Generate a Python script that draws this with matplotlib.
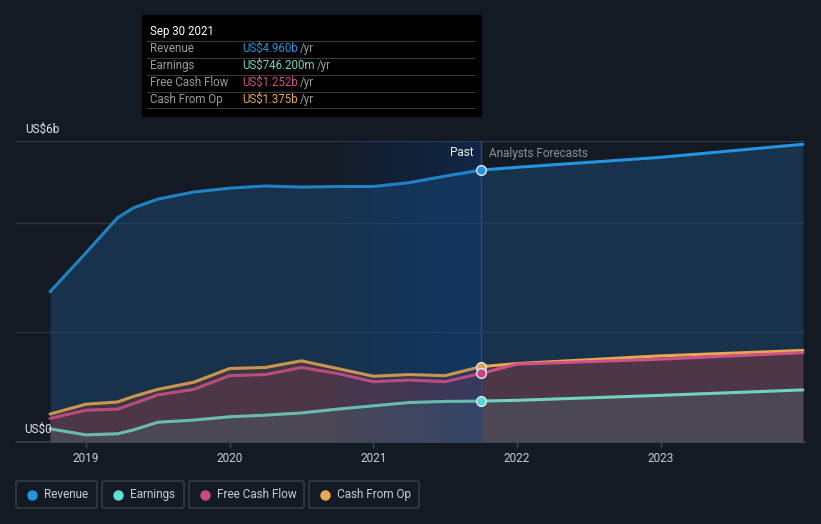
import matplotlib.pyplot as plt
import numpy as np
from matplotlib.patches import FancyBboxPatch, Rectangle
from matplotlib.lines import Line2D

plt.rcParams['font.family'] = ['Roboto', 'DejaVu Sans']

# history (US$ billions)
past_x = [2018.75, 2019.0, 2019.22, 2019.33, 2019.5, 2019.75, 2020.0, 2020.25,
          2020.5, 2020.75, 2021.0, 2021.25, 2021.5, 2021.75]
revenue_past = [2.74, 3.45, 4.09, 4.27, 4.43, 4.56, 4.63, 4.67, 4.65, 4.66, 4.66, 4.73, 4.85, 4.96]
earnings_past = [0.24, 0.13, 0.15, 0.22, 0.36, 0.40, 0.46, 0.49, 0.53, 0.60, 0.66, 0.72, 0.74, 0.746]
fcf_past = [0.43, 0.58, 0.60, 0.70, 0.86, 0.96, 1.21, 1.23, 1.36, 1.25, 1.10, 1.13, 1.10, 1.252]
cfo_past = [0.51, 0.69, 0.73, 0.83, 0.96, 1.09, 1.34, 1.36, 1.48, 1.34, 1.20, 1.23, 1.21, 1.375]

# analyst forecasts
fc_x = [2021.75, 2022.0, 2022.99, 2023.99]
revenue_fc = [4.96, 5.01, 5.19, 5.43]
earnings_fc = [0.746, 0.76, 0.85, 0.95]
fcf_fc = [1.252, 1.42, 1.51, 1.63]
cfo_fc = [1.375, 1.43, 1.57, 1.67]

years = [2019, 2020, 2021, 2022, 2023]

BG = '#141a24'
C_REV = '#2394df'
C_EARN = '#6fd3c0'
C_FCF = '#d0508a'
C_CFO = '#e8a852'

W, H = 821, 524
fig = plt.figure(figsize=(W / 100, H / 100), dpi=100, facecolor=BG)
ax = fig.add_axes([16 / W, 1 - 442 / H, (805 - 16) / W, (442 - 141) / H])
ax.set_facecolor(BG)
ymax = 5.49
ax.set_xlim(2018.513, 2024.005)
ax.set_ylim(0, ymax)

def px(x, y):
    return x / W, 1 - y / H

# fills
for xs, rev, cfo, fcf, earn in [(past_x, revenue_past, cfo_past, fcf_past, earnings_past),
                                (fc_x, revenue_fc, cfo_fc, fcf_fc, earnings_fc)]:
    ax.fill_between(xs, 0, rev, color='#1a4a70', alpha=0.5, lw=0, zorder=1)
    ax.fill_between(xs, 0, cfo, color='#5a3a40', alpha=0.6, lw=0, zorder=2)
    ax.fill_between(xs, 0, fcf, color='#6a3a4a', alpha=0.35, lw=0, zorder=2)
    ax.fill_between(xs, 0, earn, color='#4a5560', alpha=0.55, lw=0, zorder=3)

# highlight band for the last year of history
grad = np.zeros((2, 100, 4))
grad[..., 0] = 0.05
grad[..., 1] = 0.25
grad[..., 2] = 0.55
grad[..., 3] = 0.08 + 0.27 * np.linspace(0, 1, 100) ** 1.3
ax.imshow(grad, extent=[2020.75, 2021.75, 0, ymax], aspect='auto', zorder=4,
          interpolation='bilinear')
ax.axvline(2021.75, color='#1f4f80', lw=1, zorder=4)

# lines
for xs, ys, c in [(past_x, cfo_past, C_CFO), (past_x, fcf_past, C_FCF),
                  (past_x, earnings_past, C_EARN), (past_x, revenue_past, C_REV)]:
    ax.plot(xs, ys, color=c, lw=2.2, alpha=0.85, zorder=5, solid_capstyle='round',
            solid_joinstyle='round')
for xs, ys, c in [(fc_x, cfo_fc, C_CFO), (fc_x, fcf_fc, C_FCF),
                  (fc_x, earnings_fc, C_EARN), (fc_x, revenue_fc, C_REV)]:
    ax.plot(xs, ys, color=c, lw=2.2, zorder=5, solid_capstyle='round')

for v, c in [(revenue_past[-1], C_REV), (cfo_past[-1], '#d9a050'),
             (fcf_past[-1], '#c04888'), (earnings_past[-1], '#50d8d8')]:
    ax.plot([2021.75], [v], 'o', ms=7, color=c, mec='#e8e8f0', mew=1, zorder=6)

# grid and axes
for g in [2, 4]:
    ax.axhline(g, color='#2a3442', lw=1, zorder=0.5)
ax.axhline(ymax, color='#3a4250', lw=1.2, zorder=0.5)
for s in ['top', 'right', 'left']:
    ax.spines[s].set_visible(False)
ax.spines['bottom'].set_color('#3a4250')
ax.spines['bottom'].set_linewidth(1.2)
ax.set_yticks([])
ax.set_xticks(years)
ax.set_xticklabels([str(y) for y in years])
ax.tick_params(axis='x', colors='#3a4250', length=4, width=1, labelcolor='#c8ccd2',
               labelsize=8.5, pad=3)

fig.text(*px(25, 129), 'US$6b', color='#e0e2e6', fontsize=8.5, va='center')
fig.text(*px(24, 429), 'US$0', color='#e0e2e6', fontsize=8.5, va='center')
fig.text(*px(473, 153), 'Past', color='#f0f0f0', fontsize=8.5, va='center', ha='right')
fig.text(*px(489, 153), 'Analysts Forecasts', color='#8a9098', fontsize=8.5, va='center')

# tooltip
fig.patches.append(Rectangle(px(142, 116), 339 / W, 101 / H, transform=fig.transFigure,
                             color='#000000', zorder=10))
fig.text(*px(150, 31), 'Sep 30 2021', color='#ffffff', fontsize=8.3, va='center', zorder=11)
rows = [('Revenue', 'US$4.960b', C_REV), ('Earnings', 'US$746.200m', C_EARN),
        ('Free Cash Flow', 'US$1.252b', C_FCF), ('Cash From Op', 'US$1.375b', C_CFO)]
for sep in [40.5, 57.5, 74.5, 91.5, 108.5]:
    fig.add_artist(Line2D([147 / W, 474 / W], [1 - sep / H] * 2, color='#3a3a3a', lw=0.8, zorder=11))
for i, (lab, val, c) in enumerate(rows):
    y = 48.5 + 17 * i
    fig.text(*px(150, y), lab, color='#9a9a9a', fontsize=8.3, va='center', zorder=11)
    t = fig.text(*px(242, y), val, color=c, fontsize=8.3, va='center', zorder=11)
    fig.canvas.draw()
    bb = t.get_window_extent()
    fig.text(bb.x1 / W + 2 / W, 1 - y / H, '/yr', color='#9a9a9a', fontsize=8.3, va='center', zorder=11)

# legend
legend = [('Revenue', C_REV, 16, 97), ('Earnings', '#5ee0d0', 102, 184),
          ('Free Cash Flow', '#c84888', 189, 304), ('Cash From Op', '#e8a852', 309, 419)]
for lab, c, x0, x1 in legend:
    fig.patches.append(FancyBboxPatch(px(x0, 508), (x1 - x0) / W, 27 / H,
                                      boxstyle='round,pad=0,rounding_size=0.003',
                                      transform=fig.transFigure, fc='none',
                                      ec='#3a4250', lw=1))
    fig.add_artist(Line2D([(x0 + 16) / W], [1 - 494.5 / H], marker='o', ms=6.5,
                          color=c, lw=0))
    fig.text(*px(x0 + 28, 494.5), lab, color='#c8ccd2', fontsize=8.5, va='center')

fig.savefig('out.png', dpi=100, facecolor=BG)
